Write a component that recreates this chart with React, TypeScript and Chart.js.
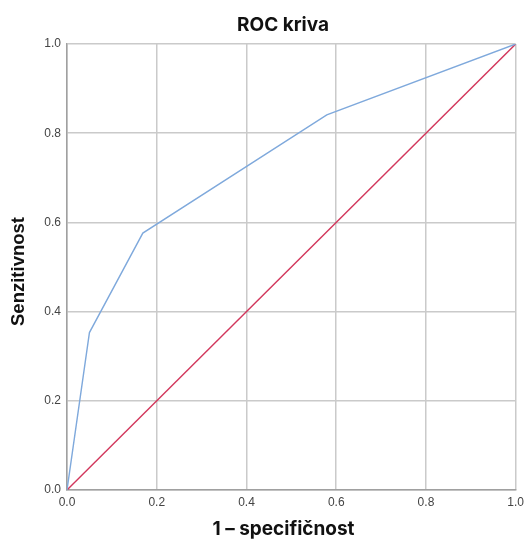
import React, { useEffect, useRef } from "react";
import { Chart, registerables } from "chart.js";

Chart.register(...registerables);

const rocX = [0, 0.05, 0.169, 0.579, 1];
const rocY = [0, 0.353, 0.576, 0.841, 1];
const refX = [0, 1];
const refY = [0, 1];
const tickValues = [0, 0.2, 0.4, 0.6, 0.8, 1.0];

const titleText = "ROC kriva";
const xTitle = "1 – specifičnost";
const yTitle = "Senzitivnost";

const titlesPlugin = {
  id: "customTitles",
  afterDraw(chart: any) {
    const ctx = chart.ctx as CanvasRenderingContext2D;
    ctx.save();
    ctx.fillStyle = "#111";
    ctx.textAlign = "center";
    ctx.textBaseline = "alphabetic";
    ctx.font = "bold 19px Inter";
    ctx.fillText(titleText, 283, 31);
    ctx.fillText(xTitle, 283.5, 535);
    ctx.font = "bold 18.5px 'Liberation Sans'";
    ctx.translate(24, 271.5);
    ctx.rotate(-Math.PI / 2);
    ctx.fillText(yTitle, 0, 0);
    ctx.restore();
  },
};

export default function App() {
  const ref = useRef<HTMLCanvasElement | null>(null);
  useEffect(() => {
    if (!ref.current) return;
    const chart = new Chart(ref.current, {
      type: "scatter",
      data: {
        datasets: [
          {
            data: rocX.map((x, i) => ({ x, y: rocY[i] })),
            showLine: true,
            borderColor: "#7fa9dc",
            borderWidth: 1.4,
            pointRadius: 0,
            fill: false,
          },
          {
            data: refX.map((x, i) => ({ x, y: refY[i] })),
            showLine: true,
            borderColor: "#d2375c",
            borderWidth: 1.4,
            pointRadius: 0,
            fill: false,
          },
        ],
      },
      options: {
        responsive: false,
        animation: false,
        layout: { padding: { left: 0, right: 0, top: 44, bottom: 0 } },
        plugins: {
          legend: { display: false },
          tooltip: { enabled: false },
          title: { display: false },
        },
        scales: {
          x: {
            type: "linear",
            min: 0,
            max: 1,
            afterBuildTicks: (s: any) => {
              s.ticks = tickValues.map((v) => ({ value: v }));
            },
            afterFit: (s: any) => {
              s.height = 49;
              s.paddingRight = 9.3;
              s.paddingLeft = 0;
            },
            ticks: {
              callback: (v: any) => Number(v).toFixed(1),
              color: "#444",
              font: { family: "Liberation Sans", size: 12 },
              padding: 5,
              maxRotation: 0,
            },
            grid: { color: "#cacaca", lineWidth: 1.5, drawTicks: false },
            border: { color: "#a0a0a0", width: 1.5 },
            title: { display: false },
          },
          y: {
            type: "linear",
            min: 0,
            max: 1,
            afterBuildTicks: (s: any) => {
              s.ticks = tickValues.map((v) => ({ value: v }));
            },
            afterFit: (s: any) => {
              s.width = 67;
            },
            ticks: {
              callback: (v: any) => Number(v).toFixed(1),
              color: "#444",
              font: { family: "Liberation Sans", size: 12 },
              padding: 6,
            },
            grid: { color: "#cacaca", lineWidth: 1.5, drawTicks: false },
            border: { color: "#a0a0a0", width: 1.5 },
            title: { display: false },
          },
        },
      },
      plugins: [titlesPlugin],
    });
    return () => chart.destroy();
  }, []);
  return (
    <div style={{ position: "fixed", left: 0, top: 0, width: 525, height: 539, background: "#fff" }}>
      <canvas ref={ref} width={525} height={539} />
    </div>
  );
}
